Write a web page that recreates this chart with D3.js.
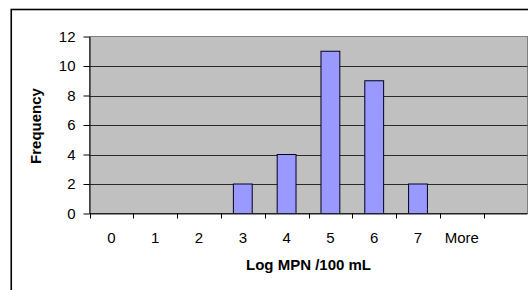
<!DOCTYPE html>
<html>
<head>
<meta charset="utf-8">
<script src="https://cdn.jsdelivr.net/npm/d3@7"></script>
<style>
  html, body { margin: 0; padding: 0; background: #fff; }
  svg { display: block; }
  text { font-family: Arial, "Liberation Sans", sans-serif; }
</style>
</head>
<body>
<svg id="chart" width="528" height="290"></svg>
<script>
// Data
const categories = ["0", "1", "2", "3", "4", "5", "6", "7", "More"];
const frequency = [0, 0, 0, 2, 4, 11, 9, 2, 0];
const yTicks = [0, 2, 4, 6, 8, 10, 12];
const xTitle = "Log MPN /100 mL";
const yTitle = "Frequency";

const svg = d3.select("#chart");
const W = 528, H = 290;

// Outer chart frame (extends past the picture on the right and bottom)
svg.append("rect")
  .attr("x", 11.25).attr("y", 9.5)
  .attr("width", W + 20).attr("height", H + 20)
  .attr("fill", "#fff").attr("stroke", "#000").attr("stroke-width", 1.6);

const plot = { left: 89.5, right: 527.5, top: 36.5, bottom: 213.5 };

// x: one trailing empty bin slot after "More"
const xDomain = categories.concat([""]);
const x = d3.scaleBand().domain(xDomain).range([plot.left, plot.right]).padding(0);
const y = d3.scaleLinear().domain([0, 12]).range([plot.bottom, plot.top]);

// Plot area
svg.append("rect")
  .attr("x", plot.left).attr("y", plot.top)
  .attr("width", plot.right - plot.left).attr("height", plot.bottom - plot.top)
  .attr("fill", "#C0C0C0").attr("stroke", "#808080").attr("stroke-width", 1);

// Gridlines
svg.append("g").selectAll("line")
  .data(yTicks.filter(d => d > 0 && d < 12))
  .join("line")
  .attr("x1", plot.left).attr("x2", plot.right)
  .attr("y1", d => Math.round(y(d)) + 0.5).attr("y2", d => Math.round(y(d)) + 0.5)
  .attr("stroke", "#2a2a2a").attr("stroke-width", 1);

// Bars
const barFrac = 0.43;
svg.append("g").selectAll("rect")
  .data(categories.map((c, i) => ({ c, v: frequency[i] })).filter(d => d.v > 0))
  .join("rect")
  .attr("x", d => x(d.c) + x.bandwidth() * (1 - barFrac) / 2)
  .attr("width", x.bandwidth() * barFrac)
  .attr("y", d => y(d.v))
  .attr("height", d => y(0) - y(d.v))
  .attr("fill", "#9999FF").attr("stroke", "#000022").attr("stroke-width", 1);

// Y axis
const yAxis = d3.axisLeft(y).tickValues(yTicks).tickSize(6).tickPadding(8).tickSizeOuter(0);
const gy = svg.append("g").attr("transform", `translate(${plot.left},0)`).call(yAxis);
gy.select(".domain").attr("stroke", "#000");
gy.selectAll(".tick line").attr("stroke", "#000");
gy.selectAll(".tick text").attr("font-size", 15).attr("fill", "#000")
  .attr("font-family", 'Arial, "Liberation Sans", sans-serif');

// X axis: line + ticks at bin boundaries
svg.append("line")
  .attr("x1", plot.left).attr("x2", plot.right)
  .attr("y1", plot.bottom + 0.25).attr("y2", plot.bottom + 0.25)
  .attr("stroke", "#222").attr("stroke-width", 1.5);
const bounds = xDomain.map(d => x(d)).concat([plot.right]);
svg.append("g").selectAll("line")
  .data(bounds)
  .join("line")
  .attr("x1", d => Math.round(d) + 0.5).attr("x2", d => Math.round(d) + 0.5)
  .attr("y1", plot.bottom).attr("y2", plot.bottom + 5)
  .attr("stroke", "#000");
svg.append("g").selectAll("text")
  .data(categories)
  .join("text")
  .attr("x", d => x(d) + x.bandwidth() / 2)
  .attr("y", 243)
  .attr("text-anchor", "middle")
  .attr("font-size", 15).attr("fill", "#000")
  .text(d => d);

// Axis titles
svg.append("text")
  .attr("x", (plot.left + plot.right) / 2).attr("y", 270)
  .attr("text-anchor", "middle").attr("font-size", 15).attr("font-weight", "bold")
  .text(xTitle);
svg.append("text")
  .attr("transform", `translate(41,${(plot.top + plot.bottom) / 2 + 1}) rotate(-90)`)
  .attr("text-anchor", "middle").attr("font-size", 15).attr("font-weight", "bold")
  .text(yTitle);
</script>
</body>
</html>
